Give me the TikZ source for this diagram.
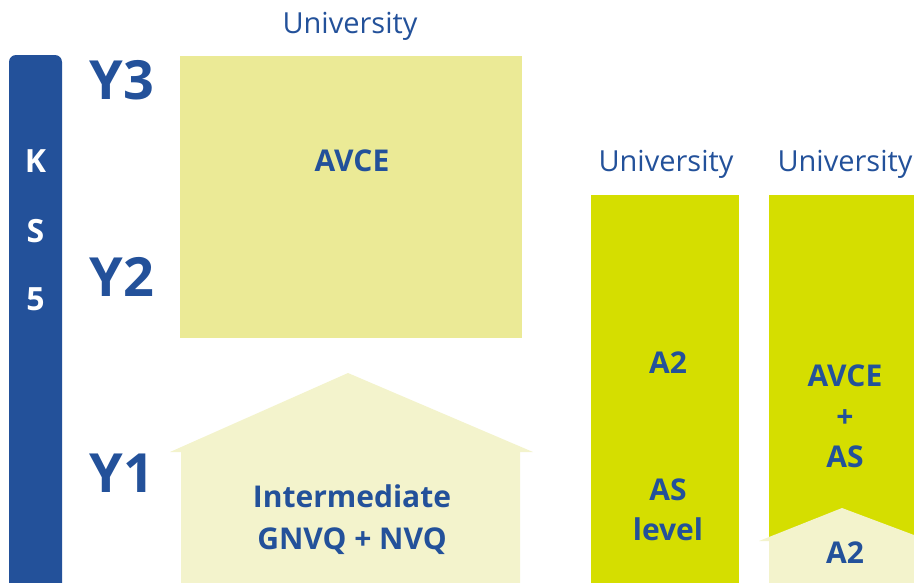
\documentclass[tikz,border=0pt]{standalone}
\usepackage{fontspec}
\setmainfont{Open Sans}
\definecolor{kblue}{HTML}{23519A}
\definecolor{avce}{HTML}{EBEA96}
\definecolor{pale}{HTML}{F3F3CC}
\definecolor{lime}{HTML}{D5DE00}
\tikzset{
  lbl/.style={text=kblue, font=\bfseries\fontsize{30}{34}\selectfont, anchor=base, inner sep=0pt, align=center},
  yr/.style={text=kblue, font=\bfseries\fontsize{54}{60}\selectfont, anchor=base, inner sep=0pt},
  ks/.style={text=white, font=\bfseries\fontsize{32}{36}\selectfont, anchor=base, inner sep=0pt},
  uni/.style={text=kblue, font=\fontsize{29}{34}\selectfont, anchor=base, inner sep=0pt}
}
\begin{document}
\begin{tikzpicture}[x=1pt,y=-1pt]
\useasboundingbox (0,0) rectangle (914,582);
\clip (0,0) rectangle (914,582);
% KS5 bar
\fill[kblue, rounded corners=7pt] (9,620) -- (9,55) -- (62,55) -- (62,620) -- cycle;
\node[ks] (k) at (35.5,172) {K};
\node[ks] (s) at (35.5,242) {S};
\node[ks] (five) at (35.5,310) {5};
% years
\node[yr] (y3) at (122,99) {Y3};
\node[yr] (y2) at (122,296) {Y2};
\node[yr] (y1) at (122,492) {Y1};
% AVCE box
\fill[avce] (180,56) rectangle (522,338);
\node[lbl] (avce) at (352,171) {AVCE};
\node[uni] (uni1) at (350,33) {University};
% house
\fill[pale] (181,600) -- (181,452) -- (170,452) -- (348,373) -- (533,452) -- (520,452) -- (520,600) -- cycle;
\node[lbl] (inter) at (352,507) {Intermediate};
\node[lbl] (gnvq) at (352,549) {GNVQ + NVQ};
% column 1
\fill[lime] (591,195) rectangle (739,600);
\node[uni] (uni2) at (666,171) {University};
\node[lbl] (a2a) at (668,373) {A2};
\node[lbl] (as) at (668,500) {AS};
\node[lbl] (level) at (668,540) {level};
% column 2
\fill[lime] (769,195) rectangle (930,600);
\node[uni] (uni3) at (845,171) {University};
\node[lbl] (avce2) at (845,386) {AVCE};
\node[lbl] (plus) at (845,427) {+};
\node[lbl] (as2) at (845,467) {AS};
\fill[pale] (769,600) -- (769,541) -- (759,541) -- (842,508) -- (930,541) -- (930,600) -- cycle;
\node[lbl] (a2b) at (845,563) {A2};
\end{tikzpicture}
\end{document}
